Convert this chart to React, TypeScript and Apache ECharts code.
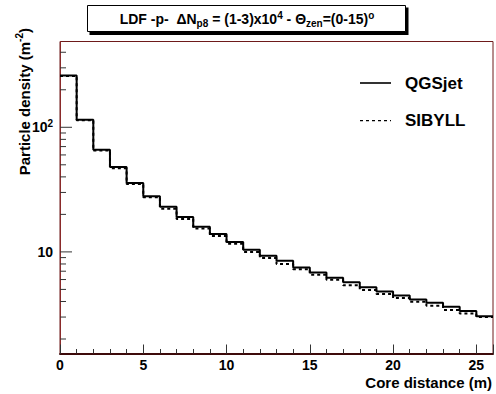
import React, { useEffect, useRef } from "react";
import * as echarts from "echarts";

const seriesNames = ["QGSjet", "SIBYLL"];
const binEdges = [0, 1, 2, 3, 4, 5, 6, 7, 8, 9, 10, 11, 12, 13, 14, 15, 16, 17, 18, 19, 20, 21, 22, 23, 24, 25, 26];
const qgsjet = [260, 115, 66, 48, 35.8, 28, 23, 19.1, 15.9, 13.9, 12.0, 10.4, 9.3, 8.5, 7.5, 6.85, 6.2, 5.7, 5.2, 4.8, 4.47, 4.15, 3.9, 3.63, 3.35, 3.04];
const sibyll = [258, 114, 65, 47, 35, 27.5, 22.2, 18.4, 15.4, 13.4, 11.6, 10.0, 8.95, 8.0, 7.27, 6.55, 5.97, 5.4, 4.95, 4.6, 4.26, 3.98, 3.7, 3.42, 3.2, 3.0];
const xLabelValues = [0, 5, 10, 15, 20, 25];
const yMajorTicks = [10, 100];
const yMinorTicks = [2, 3, 4, 5, 6, 7, 8, 9, 20, 30, 40, 50, 60, 70, 80, 90, 200, 300, 400];
const xMin = 0;
const xMax = 26;
const yMin = 1.53;
const yMax = 488;

const FONT = "'Liberation Sans', Arial, Helvetica, sans-serif";
const DASH = [3, 3];

function histPoints(vals: number[]) {
  return binEdges.map((e, i) => [e, vals[Math.min(i, vals.length - 1)]]);
}

export default function App() {
  const ref = useRef<HTMLDivElement>(null);
  useEffect(() => {
    if (!ref.current) return;
    const chart = echarts.init(ref.current, null, { renderer: "svg" });
    const tickData = [
      ...yMajorTicks.map((v) => [xMin, v, 12]),
      ...yMinorTicks.map((v) => [xMin, v, 6]),
    ];
    const legendGraphics: any[] = [];
    seriesNames.forEach((name, i) => {
      const y = 83 + i * 37.7;
      legendGraphics.push({
        type: "line",
        shape: { x1: 360, y1: y, x2: 391, y2: y },
        style: { stroke: "#000", lineWidth: i === 0 ? 1.6 : 1.3, lineDash: i === 0 ? null : DASH },
      });
      legendGraphics.push({
        type: "text",
        x: 405,
        y: y,
        style: {
          text: name,
          fontFamily: FONT,
          fontSize: 17,
          fontWeight: "bold",
          fill: "#000",
          align: "left",
          verticalAlign: "middle",
        },
      });
    });
    chart.setOption({
      animation: false,
      backgroundColor: "#fff",
      grid: {
        left: 60,
        right: 2.5,
        top: 41.5,
        bottom: 40.5,
        show: true,
        borderColor: "#6e1a1a",
        borderWidth: 1,
        backgroundColor: "transparent",
      },
      xAxis: [
        {
          type: "value",
          min: xMin,
          max: xMax,
          interval: 1,
          axisLine: { lineStyle: { color: "#3d0a0a", width: 2 } },
          axisTick: { inside: true, length: 4.5, lineStyle: { color: "#333" } },
          splitLine: { show: false },
          axisLabel: {
            margin: 4,
            fontFamily: FONT,
            fontSize: 14,
            fontWeight: "bold",
            color: "#000",
            formatter: (v: number) => (xLabelValues.includes(v) ? String(v) : ""),
          },
          name: "Core distance (m)",
          nameLocation: "end",
          nameGap: -1,
          nameTextStyle: {
            fontFamily: FONT,
            fontSize: 15,
            fontWeight: "bold",
            color: "#000",
            align: "right",
            verticalAlign: "top",
            padding: [21, 0, 0, 0],
          },
        },
        {
          type: "value",
          min: xMin,
          max: xMax,
          interval: 5,
          position: "bottom",
          axisLine: { show: false },
          axisTick: { inside: true, length: 9, lineStyle: { color: "#333" } },
          axisLabel: { show: false },
          splitLine: { show: false },
        },
      ],
      yAxis: {
        type: "log",
        logBase: 10,
        min: yMin,
        max: yMax,
        axisLine: { show: true, lineStyle: { color: "#8a2a2a", width: 1 } },
        axisTick: { show: false },
        splitLine: { show: false },
        axisLabel: {
          margin: 7,
          showMinLabel: false,
          showMaxLabel: false,
          fontFamily: FONT,
          fontSize: 14,
          fontWeight: "bold",
          color: "#000",
          formatter: (v: number) => {
            const e = Math.log10(v);
            if (Math.abs(e - 1) < 1e-6) return "{b|10}";
            if (Math.abs(e - 2) < 1e-6) return "{b|10}{s|2}";
            return "";
          },
          rich: {
            b: { fontFamily: FONT, fontSize: 14, fontWeight: "bold", color: "#000", lineHeight: 18, verticalAlign: "middle" },
            s: { fontFamily: FONT, fontSize: 10, fontWeight: "bold", color: "#000", lineHeight: 12, verticalAlign: "top" },
          },
        },
      },
      series: [
        {
          name: seriesNames[0],
          type: "line",
          xAxisIndex: 0,
          step: "end",
          symbol: "none",
          showSymbol: false,
          data: histPoints(qgsjet),
          lineStyle: { color: "#000", width: 2 },
          itemStyle: { color: "#000" },
          z: 3,
        },
        {
          name: seriesNames[1],
          type: "line",
          xAxisIndex: 0,
          step: "end",
          symbol: "none",
          showSymbol: false,
          data: histPoints(sibyll),
          lineStyle: { color: "#000", width: 2, type: DASH },
          itemStyle: { color: "#000" },
          z: 2,
        },
        {
          type: "custom",
          xAxisIndex: 0,
          silent: true,
          clip: false,
          encode: { x: 0, y: 1 },
          data: tickData,
          renderItem: (params: any, api: any) => {
            const p = api.coord([api.value(0), api.value(1)]);
            const len = api.value(2);
            return {
              type: "line",
              shape: { x1: p[0], y1: p[1], x2: p[0] + len, y2: p[1] },
              style: { stroke: "#333", lineWidth: 1 },
            };
          },
        },
      ],
      graphic: [
        {
          type: "rect",
          shape: { x: 89.5, y: 7.5, width: 319, height: 27.5 },
          style: { fill: "#000" },
        },
        {
          type: "rect",
          shape: { x: 87.5, y: 5.5, width: 318, height: 26 },
          style: { fill: "#fff", stroke: "#000", lineWidth: 1 },
        },
        {
          type: "text",
          x: 247,
          y: 19,
          style: {
            text: "{b|LDF -p-  \u0394N}{sub|p8}{b| = (1-3)x10}{sup|4}{b| - \u0398}{sub|zen}{b|=(0-15)}{sup|o}",
            align: "center",
            verticalAlign: "middle",
            rich: {
              b: { fontFamily: FONT, fontSize: 14, fontWeight: "bold", fill: "#000", lineHeight: 18, verticalAlign: "middle" },
              sub: { fontFamily: FONT, fontSize: 10, fontWeight: "bold", fill: "#000", lineHeight: 10, verticalAlign: "bottom" },
              sup: { fontFamily: FONT, fontSize: 10, fontWeight: "bold", fill: "#000", lineHeight: 12, verticalAlign: "top" },
            },
          },
        },
        {
          type: "text",
          x: 24,
          y: 28,
          rotation: Math.PI / 2,
          style: {
            text: "{b|Particle density (m}{sup|-2}{b|)}",
            align: "right",
            verticalAlign: "middle",
            rich: {
              b: { fontFamily: FONT, fontSize: 15, fontWeight: "bold", fill: "#000", lineHeight: 19, verticalAlign: "middle" },
              sup: { fontFamily: FONT, fontSize: 10, fontWeight: "bold", fill: "#000", lineHeight: 12, verticalAlign: "top" },
            },
          },
        },
        ...legendGraphics,
      ],
    });
    return () => chart.dispose();
  }, []);
  return <div ref={ref} style={{ width: 496, height: 394, position: "absolute", left: 0, top: 0 }} />;
}
